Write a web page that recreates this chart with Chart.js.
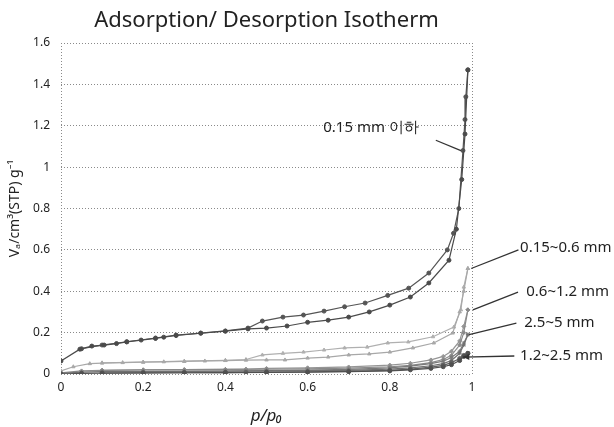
<!DOCTYPE html>
<html lang="ko">
<head>
  <meta charset="UTF-8">
  <title>Adsorption/ Desorption Isotherm</title>
  <script src="https://cdn.jsdelivr.net/npm/chart.js"></script>
  <style>
    html, body { margin: 0; padding: 0; background: #fff; }
    #wrap { width: 614px; height: 427px; }
  </style>
</head>
<body>
  <div id="wrap"><canvas id="grafico" width="614" height="427"></canvas></div>

  <script>
    // relative pressure p/p0 and adsorbed volume, one pair per branch
    const aAdsP = [0, 0.046, 0.075, 0.105, 0.135, 0.16, 0.195, 0.23, 0.25, 0.28, 0.34, 0.4, 0.455, 0.5, 0.55, 0.6, 0.65, 0.7, 0.75, 0.8, 0.85, 0.895, 0.944, 0.962, 0.975, 0.983, 0.99];
    const aAdsV = [0.063, 0.12, 0.135, 0.14, 0.147, 0.155, 0.164, 0.172, 0.178, 0.186, 0.197, 0.207, 0.218, 0.222, 0.232, 0.25, 0.26, 0.275, 0.3, 0.333, 0.372, 0.44, 0.55, 0.7, 0.94, 1.16, 1.47];
    const aDesP = [0.99, 0.985, 0.983, 0.978, 0.968, 0.955, 0.94, 0.895, 0.846, 0.795, 0.74, 0.69, 0.64, 0.59, 0.54, 0.49, 0.455, 0.4, 0.34, 0.28, 0.23, 0.16, 0.1, 0.05];
    const aDesV = [1.47, 1.34, 1.23, 1.08, 0.8, 0.68, 0.6, 0.488, 0.415, 0.38, 0.343, 0.325, 0.304, 0.285, 0.275, 0.256, 0.222, 0.208, 0.198, 0.188, 0.174, 0.156, 0.14, 0.122];

    const bAdsP = [0, 0.03, 0.07, 0.1, 0.15, 0.2, 0.25, 0.3, 0.35, 0.4, 0.45, 0.5, 0.545, 0.6, 0.65, 0.7, 0.75, 0.8, 0.856, 0.907, 0.953, 0.97, 0.98, 0.99];
    const bAdsV = [0.015, 0.035, 0.05, 0.053, 0.055, 0.057, 0.059, 0.061, 0.063, 0.065, 0.067, 0.068, 0.068, 0.077, 0.082, 0.092, 0.097, 0.106, 0.126, 0.15, 0.198, 0.3, 0.4, 0.51];
    const bDesP = [0.99, 0.98, 0.973, 0.956, 0.905, 0.845, 0.795, 0.745, 0.69, 0.64, 0.59, 0.54, 0.49, 0.45, 0.4, 0.3, 0.2, 0.1];
    const bDesV = [0.51, 0.42, 0.31, 0.227, 0.18, 0.155, 0.15, 0.13, 0.126, 0.116, 0.106, 0.1, 0.092, 0.07, 0.066, 0.062, 0.058, 0.054];

    const lowAdsP = [0, 0.05, 0.1, 0.2, 0.3, 0.4, 0.5, 0.6, 0.7, 0.8, 0.85, 0.9, 0.93, 0.95, 0.97, 0.98, 0.99];
    const lowDesP = [0.99, 0.98, 0.97, 0.95, 0.93, 0.9, 0.85, 0.8, 0.7, 0.6, 0.5, 0.45, 0.4, 0.3, 0.2, 0.1];
    const cAdsV = [0.005, 0.015, 0.018, 0.02, 0.021, 0.022, 0.023, 0.025, 0.028, 0.035, 0.042, 0.055, 0.07, 0.09, 0.14, 0.2, 0.31];
    const cDesV = [0.31, 0.23, 0.16, 0.11, 0.085, 0.068, 0.052, 0.043, 0.034, 0.03, 0.027, 0.024, 0.022, 0.021, 0.02, 0.018];
    const dAdsV = [0.003, 0.009, 0.011, 0.012, 0.013, 0.014, 0.015, 0.016, 0.018, 0.024, 0.03, 0.04, 0.05, 0.065, 0.1, 0.14, 0.19];
    const dDesV = [0.19, 0.15, 0.11, 0.08, 0.062, 0.05, 0.038, 0.03, 0.022, 0.019, 0.017, 0.015, 0.014, 0.013, 0.012, 0.011];
    const eAdsV = [0, 0.003, 0.004, 0.005, 0.006, 0.007, 0.008, 0.009, 0.011, 0.015, 0.02, 0.027, 0.035, 0.045, 0.065, 0.085, 0.1];
    const eDesV = [0.1, 0.09, 0.075, 0.055, 0.042, 0.033, 0.024, 0.018, 0.013, 0.01, 0.009, 0.008, 0.007, 0.006, 0.005, 0.004];

    const xTicks = [0, 0.2, 0.4, 0.6, 0.8, 1];

    // labels next to the curves: text, text position, line start, line end
    const etichette = [
      { testo: '0.15 mm 이하', tx: 0.638, ty: 1.19, da: [0.912, 1.13], a: [0.973, 1.08], freccia: false },
      { testo: '0.15~0.6 mm', tx: 1.117, ty: 0.61, da: [1.113, 0.6], a: [0.998, 0.51], freccia: false },
      { testo: '0.6~1.2 mm', tx: 1.132, ty: 0.396, da: [1.112, 0.396], a: [1.002, 0.31], freccia: false },
      { testo: '2.5~5 mm', tx: 1.127, ty: 0.25, da: [1.108, 0.246], a: [0.993, 0.19], freccia: false },
      { testo: '1.2~2.5 mm', tx: 1.117, ty: 0.087, da: [1.103, 0.087], a: [0.978, 0.082], freccia: true }
    ];

    function punti(px, vy) {
      return px.map((p, i) => ({ x: p, y: vy[i] }));
    }

    function serie(px, vy, colore, stile) {
      return {
        data: punti(px, vy),
        borderColor: colore,
        backgroundColor: colore,
        borderWidth: 1.2,
        pointStyle: stile,
        pointRadius: 2,
        pointBorderWidth: 1,
        showLine: true,
        fill: false,
        tension: 0
      };
    }

    const pluginEtichette = {
      id: 'etichette',
      afterDraw(chart) {
        const ctx = chart.ctx;
        const sx = chart.scales.x, sy = chart.scales.y;
        ctx.save();
        ctx.font = '15px "Noto Sans", sans-serif';
        ctx.fillStyle = '#222';
        ctx.strokeStyle = '#333';
        ctx.lineWidth = 1.3;
        ctx.textBaseline = 'middle';
        etichette.forEach(e => {
          const x0 = sx.getPixelForValue(e.da[0]), y0 = sy.getPixelForValue(e.da[1]);
          const x1 = sx.getPixelForValue(e.a[0]), y1 = sy.getPixelForValue(e.a[1]);
          ctx.beginPath();
          ctx.moveTo(x0, y0);
          ctx.lineTo(x1, y1);
          ctx.stroke();
          if (e.freccia) {
            const ang = Math.atan2(y1 - y0, x1 - x0);
            ctx.beginPath();
            ctx.moveTo(x1, y1);
            ctx.lineTo(x1 - 7 * Math.cos(ang - 0.45), y1 - 7 * Math.sin(ang - 0.45));
            ctx.lineTo(x1 - 7 * Math.cos(ang + 0.45), y1 - 7 * Math.sin(ang + 0.45));
            ctx.closePath();
            ctx.fillStyle = '#333';
            ctx.fill();
            ctx.fillStyle = '#222';
          }
          ctx.fillText(e.testo, sx.getPixelForValue(e.tx), sy.getPixelForValue(e.ty));
        });
        ctx.restore();
      }
    };

    const ctx = document.getElementById('grafico').getContext('2d');
    new Chart(ctx, {
      type: 'scatter',
      data: {
        datasets: [
          serie(lowAdsP, eAdsV, '#505050', 'circle'),
          serie(lowDesP, eDesV, '#606060', 'circle'),
          serie(lowAdsP, dAdsV, '#707070', 'star'),
          serie(lowDesP, dDesV, '#7a7a7a', 'star'),
          serie(lowAdsP, cAdsV, '#8a8a8a', 'rectRot'),
          serie(lowDesP, cDesV, '#959595', 'rectRot'),
          serie(bAdsP, bAdsV, '#a8a8a8', 'triangle'),
          serie(bDesP, bDesV, '#b0b0b0', 'triangle'),
          serie(aAdsP, aAdsV, '#4a4a4a', 'circle'),
          serie(aDesP, aDesV, '#555555', 'circle')
        ]
      },
      options: {
        responsive: false,
        animation: false,
        layout: { padding: { left: 0, right: 142, top: 0, bottom: 0 } },
        plugins: {
          legend: { display: false },
          tooltip: { enabled: false },
          title: {
            display: true,
            fullSize: false,
            text: 'Adsorption/ Desorption Isotherm',
            color: '#222',
            font: { family: '"Noto Sans", sans-serif', size: 22, weight: 'normal' },
            padding: { top: 8, bottom: 8.6 }
          }
        },
        scales: {
          x: {
            type: 'linear',
            min: 0,
            max: 1,
            afterFit: s => { s.height = 53; },
            afterBuildTicks: s => { s.ticks = xTicks.map(v => ({ value: v })); },
            grid: {
              drawTicks: false,
              color: c => (c.tick && (c.tick.value === 0 || c.tick.value === 1)) ? '#8a8a8a' : 'rgba(0,0,0,0)',
              lineWidth: 1
            },
            border: { display: false, dash: [1, 2] },
            ticks: {
              padding: 6,
              color: '#222',
              font: { family: '"Noto Sans", sans-serif', size: 12 },
              maxRotation: 0,
              callback: v => String(v)
            },
            title: {
              display: true,
              text: 'p/p₀',
              color: '#222',
              font: { family: '"Noto Sans", sans-serif', size: 17, style: 'italic' },
              padding: { top: 0, bottom: 1 }
            }
          },
          y: {
            min: 0,
            max: 1.6,
            afterFit: s => { s.width = 61; },
            grid: {
              drawTicks: false,
              color: '#8a8a8a',
              lineWidth: 1
            },
            border: { display: false, dash: [1, 2] },
            ticks: {
              stepSize: 0.2,
              padding: 11,
              color: '#222',
              font: { family: '"Noto Sans", sans-serif', size: 12 },
              callback: v => String(Math.round(v * 10) / 10)
            },
            title: {
              display: true,
              text: 'Vₐ/cm³(STP) g⁻¹',
              color: '#222',
              font: { family: '"Noto Sans", sans-serif', size: 14 },
              padding: { top: 7, bottom: 0 }
            }
          }
        }
      },
      plugins: [pluginEtichette]
    });
  </script>
</body>
</html>
